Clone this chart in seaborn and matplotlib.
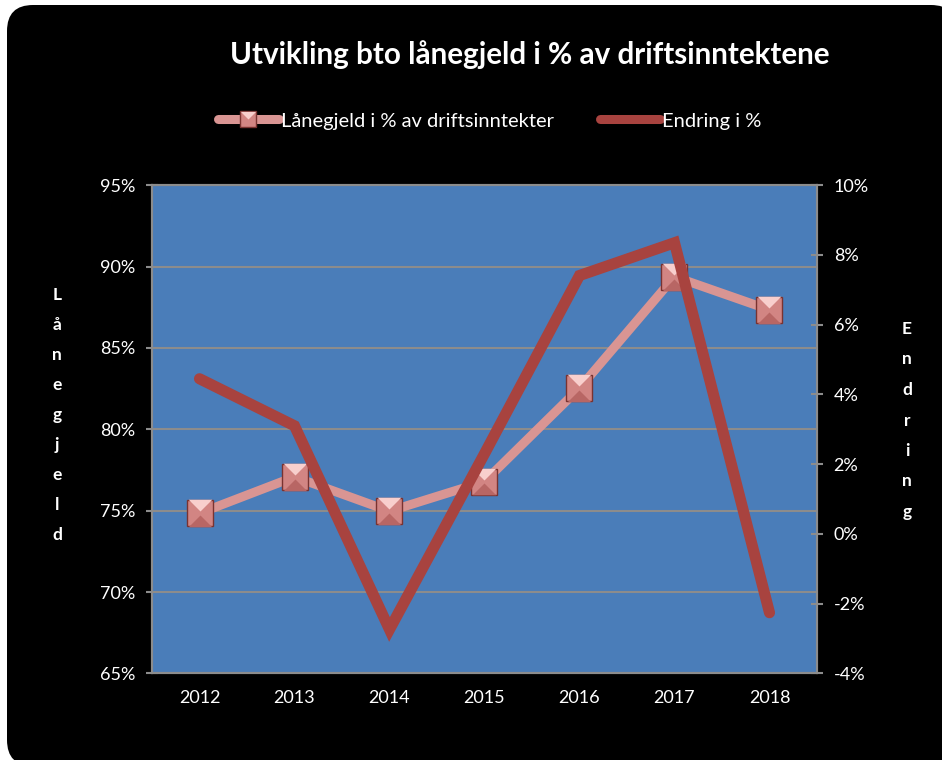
import matplotlib
matplotlib.use("Agg")
import matplotlib.pyplot as plt
import seaborn as sns
import pandas as pd
import numpy as np
from matplotlib.patches import FancyBboxPatch
from matplotlib.ticker import FixedLocator, FuncFormatter
from matplotlib.lines import Line2D
from matplotlib.legend_handler import HandlerTuple

years = ["2012", "2013", "2014", "2015", "2016", "2017", "2018"]
laanegjeld = [74.84, 77.08, 74.97, 76.79, 82.53, 89.38, 87.34]
endring = [4.45, 3.10, -2.74, 2.30, 7.41, 8.35, -2.26]

title = "Utvikling bto lånegjeld i % av driftsinntektene"
series1_name = "Lånegjeld i % av driftsinntekter"
series2_name = "Endring i %"
left_label = "Lånegjeld"
right_label = "Endring"

sns.set_theme(style="white")
plt.rcParams["font.family"] = ["Lato", "DejaVu Sans"]

df = pd.DataFrame({"x": np.arange(len(years)), "laan": laanegjeld, "endr": endring})

fig = plt.figure(figsize=(9.42, 7.6), dpi=100)
fig.patch.set_facecolor("white")
bg = FancyBboxPatch((7, -6), 950, 761, boxstyle="round,pad=0,rounding_size=26",
                    transform=None, facecolor="black", edgecolor="none", zorder=-10)
fig.patches.append(bg)

ax = fig.add_axes([152/942, 1-673.4/760, (817-152)/942, (673.4-185.2)/760])
ax.set_facecolor("#4A7DB9")
PINK = "#D99593"
RED = "#A8433F"
GRID = "#8C8C8C"
MSIZE = 19

TOP_TRI = [(-1, 1), (1, 1), (0, 0)]
BOT_TRI = [(-1, -1), (1, -1), (0, 0)]

sns.lineplot(data=df, x="x", y="laan", ax=ax, color=PINK, linewidth=6.5,
             marker="s", markersize=MSIZE, markerfacecolor="#D28583",
             markeredgecolor="#7A3331", markeredgewidth=1.0, zorder=3)
ax.plot(df["x"], df["laan"] + 0.12, linestyle="none", marker=TOP_TRI, markersize=MSIZE - 2,
        markerfacecolor="#F8CFCD", markeredgecolor="none", zorder=4)
ax.plot(df["x"], df["laan"] - 0.12, linestyle="none", marker=BOT_TRI, markersize=MSIZE - 2,
        markerfacecolor="#B86664", markeredgecolor="none", zorder=4)

ax.set_xlim(-0.5, len(years) - 0.5)
ax.set_ylim(65, 95)
ax.yaxis.set_major_locator(FixedLocator([65, 70, 75, 80, 85, 90, 95]))
ax.yaxis.set_major_formatter(FuncFormatter(lambda v, p: f"{v:.0f}%"))
ax.set_xticks(np.arange(len(years)))
ax.set_xticklabels(years)
ax.set_xticks(np.arange(len(years) + 1) - 0.5, minor=True)
ax.tick_params(axis="x", which="major", length=0, pad=12, colors="white", labelsize=13)
ax.tick_params(axis="x", which="minor", length=8, width=1.5, direction="inout", color=GRID)
ax.tick_params(axis="y", which="major", length=8, width=1.5, direction="inout",
               color=GRID, labelcolor="white", labelsize=13, pad=8)
ax.grid(axis="y", color=GRID, linewidth=1.5)
ax.grid(axis="x", visible=False)
for s in ax.spines.values():
    s.set_color(GRID)
    s.set_linewidth(1.5)
ax.set_xlabel("")
ax.set_ylabel("")

ax2 = ax.twinx()
ax2.set_facecolor("none")
sns.lineplot(data=df, x="x", y="endr", ax=ax2, color=RED, linewidth=8,
             solid_capstyle="round", solid_joinstyle="miter", zorder=5)
ax2.set_ylim(-4, 10)
ax2.yaxis.set_major_locator(FixedLocator([-4, -2, 0, 2, 4, 6, 8, 10]))
ax2.yaxis.set_major_formatter(FuncFormatter(lambda v, p: f"{v:.0f}%"))
ax2.tick_params(axis="y", which="major", length=8, width=1.5, direction="inout",
                color=GRID, labelcolor="white", labelsize=13, pad=8)
ax2.grid(False)
for s in ax2.spines.values():
    s.set_color(GRID)
    s.set_linewidth(1.5)
ax2.set_ylabel("")
ax2.set_xlabel("")

fig.text(530/942, 1-55/760, title, ha="center", va="center", color="white",
         fontsize=21.3, fontweight="bold")

for i, ch in enumerate(left_label):
    fig.text(57/942, 1-(295 + 30*i)/760, ch, ha="center", va="center",
             color="white", fontsize=12.5, fontweight="bold")
for i, ch in enumerate(right_label):
    fig.text(907/942, 1-(329 + 30.5*i)/760, ch, ha="center", va="center",
             color="white", fontsize=12.5, fontweight="bold")

h1a = Line2D([], [], color=PINK, linewidth=6.5, marker="s", markersize=12,
             markerfacecolor="#D28583", markeredgecolor="#7A3331")
h1b = Line2D([], [], linestyle="none", marker=TOP_TRI, markersize=11,
             markerfacecolor="#F8CFCD", markeredgecolor="none")
h2 = Line2D([], [], color=RED, linewidth=6.5, solid_capstyle="round")
leg = fig.legend([(h1a, h1b), h2], [series1_name, series2_name], loc="center",
                 bbox_to_anchor=(490/942, 1-121/760), ncol=2, frameon=False,
                 fontsize=14.5, handlelength=3.0, handletextpad=0.1, columnspacing=2.3,
                 handler_map={tuple: HandlerTuple(ndivide=1)})
for t in leg.get_texts():
    t.set_color("white")

fig.savefig("out.png", dpi=100, facecolor=fig.get_facecolor())
